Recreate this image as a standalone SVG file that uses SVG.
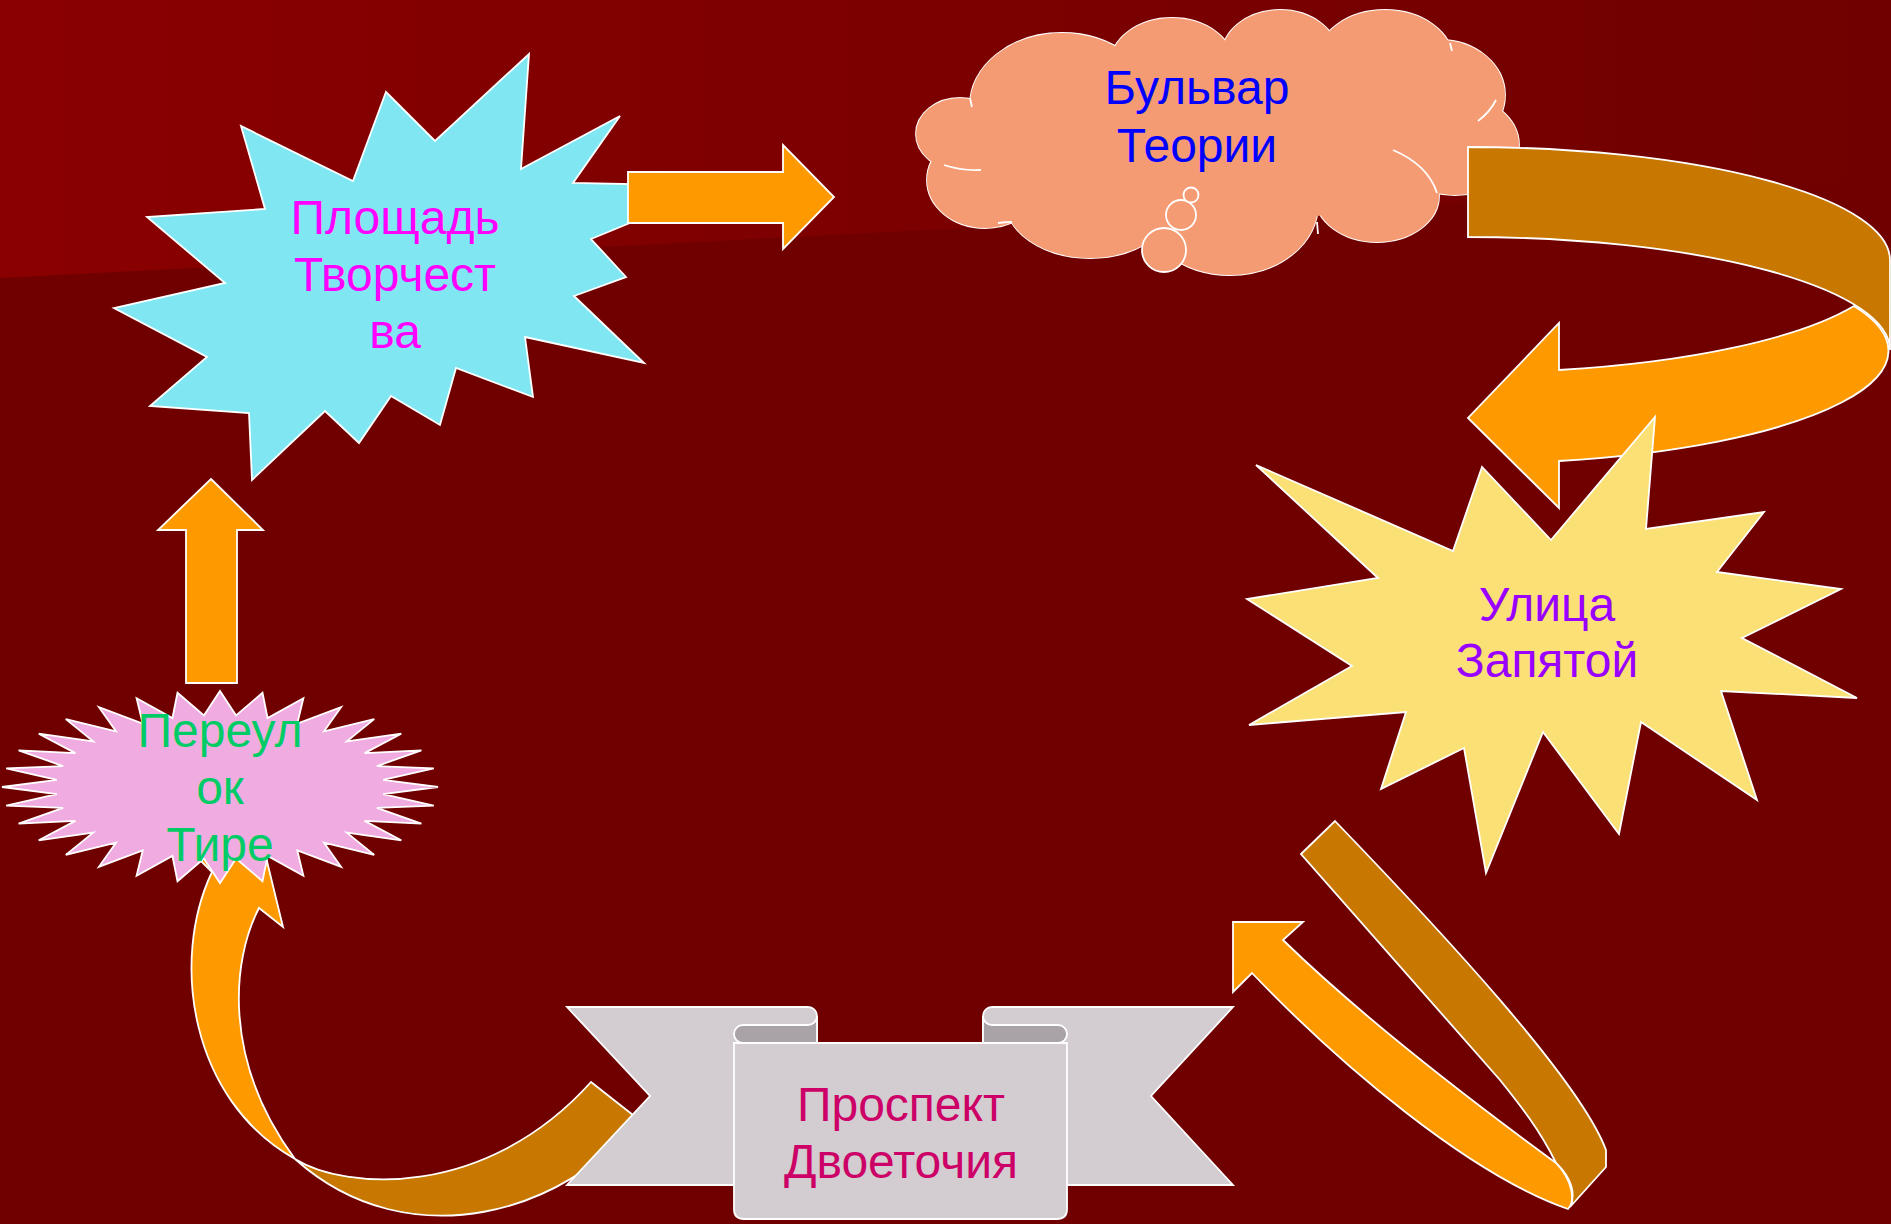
<svg xmlns="http://www.w3.org/2000/svg" width="1891" height="1224" viewBox="0 0 1891 1224">
<defs>
<linearGradient id="bgTop" x1="0" y1="0" x2="1891" y2="0" gradientUnits="userSpaceOnUse">
<stop offset="0" stop-color="#8a0000"/>
<stop offset="0.5" stop-color="#7c0000"/>
<stop offset="1" stop-color="#700000"/>
</linearGradient>
<style>
.s{stroke:#ffffff;stroke-width:1.8;stroke-linejoin:miter}
.o{fill:#ff9900}
.d{fill:#c87800}
.t{font-family:"Liberation Sans",Arial,sans-serif;font-size:48px;text-anchor:middle}
.cl{fill:#f59b73}
.sc{fill:#d3ccd1}
.rl{fill:#a9a3a8}
</style>
</defs>
<g id="background">
<rect x="0" y="0" width="1891" height="1224" fill="#700000"/>
<path d="M0,0 H1891 V180 L0,278 Z" fill="url(#bgTop)"/>
</g>

<g id="node-ploshchad">
<polygon class="s" fill="#7fe6f2" points="529,54 521,169 620,116 573,183 720,186 591,239 626,277 574,296 644,363 525,337 533,397 456,368 440,425 391,396 359,443 325,411 252,480 249,413 150,406 207,357 114,308 225,283 147,217 265,209 241,126 353,181 386,92 435,141"/>
<text class="t" fill="#ff00ff" x="395" y="234">Площадь</text>
<text class="t" fill="#ff00ff" x="395" y="291">Творчест</text>
<text class="t" fill="#ff00ff" x="395" y="348">ва</text>
</g>

<g id="node-bulvar">
<g class="s cl">
<ellipse cx="960" cy="134" rx="44" ry="36"/>
<ellipse cx="1062" cy="105" rx="92" ry="72"/>
<ellipse cx="1172" cy="65" rx="62" ry="47"/>
<ellipse cx="1280" cy="55" rx="58" ry="45"/>
<ellipse cx="1385" cy="60" rx="68" ry="50"/>
<ellipse cx="1440" cy="95" rx="65" ry="55"/>
<ellipse cx="1455" cy="145" rx="64" ry="50"/>
<ellipse cx="1377" cy="196" rx="62" ry="46"/>
<ellipse cx="1230" cy="205" rx="88" ry="70"/>
<ellipse cx="1090" cy="200" rx="85" ry="58"/>
<ellipse cx="985" cy="180" rx="58" ry="48"/>
</g>
<g class="cl">
<ellipse cx="960" cy="134" rx="44" ry="36"/>
<ellipse cx="1062" cy="105" rx="92" ry="72"/>
<ellipse cx="1172" cy="65" rx="62" ry="47"/>
<ellipse cx="1280" cy="55" rx="58" ry="45"/>
<ellipse cx="1385" cy="60" rx="68" ry="50"/>
<ellipse cx="1440" cy="95" rx="65" ry="55"/>
<ellipse cx="1455" cy="145" rx="64" ry="50"/>
<ellipse cx="1377" cy="196" rx="62" ry="46"/>
<ellipse cx="1230" cy="205" rx="88" ry="70"/>
<ellipse cx="1090" cy="200" rx="85" ry="58"/>
<ellipse cx="985" cy="180" rx="58" ry="48"/>
<ellipse cx="1210" cy="140" rx="240" ry="85"/>
</g>
<g fill="none" stroke="#ffffff" stroke-width="1.8">
<path d="M1393,150 Q1428,165 1437,193"/>
<path d="M1478,121 Q1490,112 1496,100"/>
<path d="M944,165 Q962,171 981,170"/>
<path d="M998,223 Q1005,222 1012,222"/>
<path d="M1317,222 L1318,234"/>
<path d="M1450,43 L1452,51"/>
<path d="M970,98 L972,107"/>
</g>
<circle class="s cl" cx="1164" cy="250" r="22"/>
<circle class="s cl" cx="1181" cy="215" r="15"/>
<circle class="s cl" cx="1191" cy="195" r="7.5"/>
<text class="t" fill="#0000ff" x="1197" y="104">Бульвар</text>
<text class="t" fill="#0000ff" x="1197" y="162">Теории</text>
</g>

<g id="connectors">
<g id="arrow-right-top">
<polygon class="s o" points="628,172 783,172 783,145 834,197 783,249 783,223 628,223"/>
</g>
<g id="arrow-curved-right">
<path class="s d" d="M1468,147 A422,113 0 0 1 1890,260 L1890,350 A422,113 0 0 0 1468,237 Z"/>
<path class="s o" d="M1854,306 A422,113 0 0 1 1559,370 L1559,323 L1468,418 L1559,508 L1559,461 A422,113 0 0 0 1854,306 Z"/>
</g>
<g id="arrow-curved-bottom-right">
<path class="s d" d="M1301,854 L1335,821 C1440,930 1580,1080 1606,1150 L1606,1167 L1570,1207 C1576,1195 1572,1178 1556,1163 C1540,1130 1520,1105 1500,1080 Z"/>
<path class="s o" d="M1233,922 L1303,922 L1283,940 C1360,1015 1470,1100 1556,1163 C1572,1180 1576,1200 1568,1209 C1470,1175 1340,1065 1252,973 L1233,992 Z"/>
</g>
<g id="arrow-curved-bottom-left">
<path class="s d" d="M295,1159 C345,1190 485,1200 591,1082 L638,1119 C570,1210 410,1262 295,1159 Z"/>
<path class="s o" d="M295,1159 C190,1100 170,960 212,872 L195,855 L255,812 L283,927 L259,908 C232,960 222,1060 295,1159 Z"/>
</g>
<g id="arrow-up">
<polygon class="s o" points="211,479 263,530 237,530 237,683 186,683 186,530 158,530"/>
</g>
</g>

<g id="node-ulitsa">
<polygon class="s" fill="#fbe075" points="1655,417 1646,529 1764,512 1717,572 1841,589 1742,638 1857,698 1721,691 1757,800 1641,722 1619,834 1543,732 1486,873 1464,748 1381,789 1406,712 1249,725 1352,666 1247,599 1378,578 1256,465 1453,551 1482,467 1551,540"/>
<text class="t" fill="#9900ff" x="1547" y="621">Улица</text>
<text class="t" fill="#9900ff" x="1547" y="677">Запятой</text>
</g>

<g id="node-prospekt">
<path class="s sc" d="M567,1007 H808 A9,9 0 0 1 817,1016 V1185 H567 L650,1096 Z"/>
<path class="s sc" d="M1233,1007 H992 A9,9 0 0 0 983,1016 V1185 H1233 L1151,1096 Z"/>
<path class="s sc" d="M734,1043 V1209 Q734,1219 744,1219 H1057 Q1067,1219 1067,1209 V1043 Z"/>
<path class="s rl" d="M743,1025 H808 A9,9 0 0 0 817,1016 V1043 H743 A9,9 0 0 1 743,1025 Z"/>
<path class="s rl" d="M983,1016 A9,9 0 0 0 992,1025 H1058 A9,9 0 0 1 1058,1043 H983 Z"/>
<text class="t" fill="#cc0066" x="901" y="1121">Проспект</text>
<text class="t" fill="#cc0066" x="901" y="1178">Двоеточия</text>
</g>

<g id="node-pereulok">
<polygon class="s" fill="#f0ace0" points="220,691 236.1,715.4 262.5,692.8 267.6,718.1 303.4,698.3 297.3,723.5 341.1,707.2 324,731.3 374.2,719.1 346.8,741.3 401.3,733.7 364.6,753.1 421.4,750.3 376.9,766.1 433.8,768.3 383.2,779.9 438,787 383.2,794.1 433.8,805.7 376.9,807.9 421.4,823.7 364.6,820.9 401.3,840.3 346.8,832.7 374.2,854.9 324,842.7 341.1,866.8 297.3,850.5 303.4,875.7 267.6,855.9 262.5,881.2 236.1,858.6 220,883 203.9,858.6 177.5,881.2 172.4,855.9 136.6,875.7 142.7,850.5 98.9,866.8 116,842.7 65.8,854.9 93.2,832.7 38.7,840.3 75.4,820.9 18.6,823.7 63.1,807.9 6.2,805.7 56.8,794.1 2,787 56.8,779.9 6.2,768.3 63.1,766.1 18.6,750.3 75.4,753.1 38.7,733.7 93.2,741.3 65.8,719.1 116,731.3 98.9,707.2 142.7,723.5 136.6,698.3 172.4,718.1 177.5,692.8 203.9,715.4"/>
<text class="t" fill="#00cc66" x="220" y="747">Переул</text>
<text class="t" fill="#00cc66" x="220" y="804">ок</text>
<text class="t" fill="#00cc66" x="220" y="861">Тире</text>
</g>
</svg>
